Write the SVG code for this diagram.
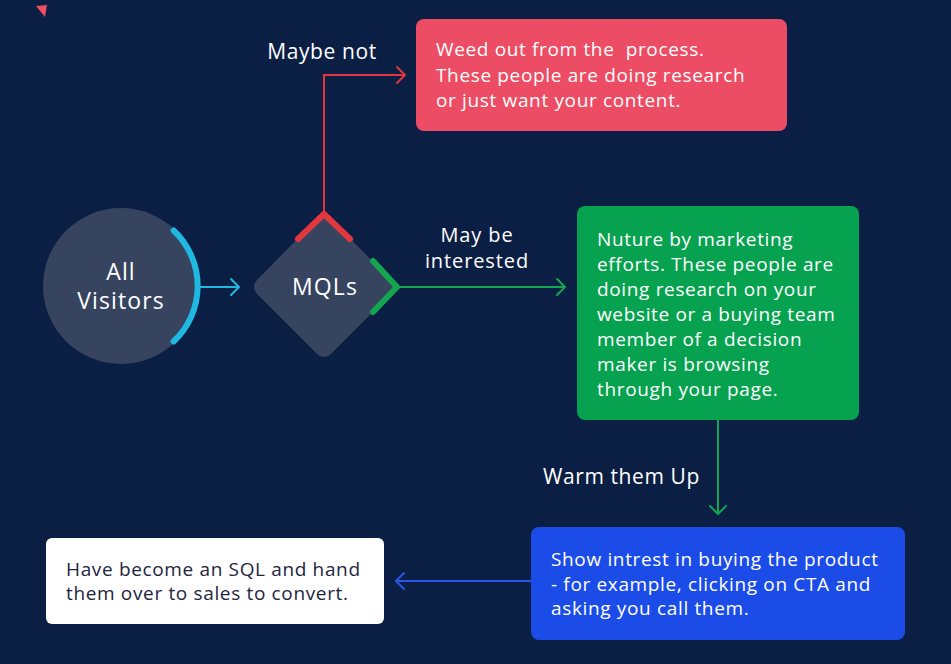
<svg xmlns="http://www.w3.org/2000/svg" width="951" height="664" viewBox="0 0 951 664">
<defs>
<style>
.t{font-family:"Open Sans","Noto Sans",sans-serif;font-size:19px;letter-spacing:0.65px;font-weight:500;fill:#ffffff}
.lbl{font-family:"Open Sans","Noto Sans",sans-serif;font-size:21px;letter-spacing:0.6px;font-weight:500;fill:#ffffff}
.lbl2{font-family:"Open Sans","Noto Sans",sans-serif;font-size:20px;letter-spacing:0.9px;font-weight:500;fill:#ffffff}
.big{font-family:"Open Sans","Noto Sans",sans-serif;font-size:23px;letter-spacing:1.1px;font-weight:500;fill:#ffffff}
.dark{fill:#1d2540}
.node{fill:#37445f}
.ln{fill:none;stroke-width:2}
.ah{fill:none;stroke-width:2;stroke-linecap:round;stroke-linejoin:round}
.cap{fill:none;stroke-width:6;stroke-linecap:round;stroke-linejoin:round}
</style>
</defs>
<rect width="951" height="664" fill="#0b1e43"/>
<polygon points="36,6 47,5 45,17" fill="#ee4d64"/>

<g id="connectors">
<line class="ln" x1="198" y1="287" x2="239" y2="287" stroke="#1fb8e0"/>
<polyline class="ah" points="231,279 239,287 231,295" stroke="#1fb8e0"/>
<polyline class="ln" points="324,213 324,75 405,75" stroke="#e0383e"/>
<polyline class="ah" points="397,67 405,75 397,83" stroke="#e0383e"/>
<line class="ln" x1="397" y1="287" x2="565" y2="287" stroke="#13a550"/>
<polyline class="ah" points="557,279 565,287 557,295" stroke="#13a550"/>
<line class="ln" x1="718" y1="420" x2="718" y2="514" stroke="#13a550"/>
<polyline class="ah" points="710,506 718,514 726,506" stroke="#13a550"/>
<line class="ln" x1="531" y1="581" x2="396" y2="581" stroke="#2a55e6"/>
<polyline class="ah" points="404,573 396,581 404,589" stroke="#2a55e6"/>
<text class="lbl" x="322" y="59" text-anchor="middle">Maybe not</text>
<text class="lbl2" x="477" y="242" text-anchor="middle">May be</text>
<text class="lbl2" x="477" y="268" text-anchor="middle">interested</text>
<text class="lbl" x="543" y="484">Warm them Up</text>
</g>

<g id="all-visitors">
<circle class="node" cx="121" cy="286" r="78"/>
<path class="cap" d="M173.6,230.5 A76,76 0 0 1 173.6,341.5" stroke="#1fb8e0"/>
<text class="big" x="121" y="280" text-anchor="middle">All</text>
<text class="big" x="121" y="309" text-anchor="middle">Visitors</text>
</g>

<g id="mqls">
<path class="node" d="M316,220 Q324,212 332,220 L390,279 Q398,287 390,295 L332,353 Q324,361 316,353 L258,295 Q250,287 258,279 Z"/>
<polyline class="cap" points="298,239 324,214 350,239" stroke="#e0383e"/>
<polyline class="cap" points="373,261 397,287 373,312" stroke="#13a550"/>
<text class="big" x="325" y="295" text-anchor="middle">MQLs</text>
</g>

<g id="weed-out">
<rect x="416" y="19" width="371" height="112" rx="8" fill="#ec4d64"/>
<text class="t" x="436" y="56" xml:space="preserve">Weed out from the  process.</text>
<text class="t" x="436" y="82">These people are doing research</text>
<text class="t" x="436" y="107">or just want your content.</text>
</g>

<g id="nurture">
<rect x="577" y="206" width="282" height="214" rx="8" fill="#06a24f"/>
<text class="t" x="597" y="246">Nuture by marketing</text>
<text class="t" x="597" y="271">efforts. These people are</text>
<text class="t" x="597" y="296">doing research on your</text>
<text class="t" x="597" y="321">website or a buying team</text>
<text class="t" x="597" y="346">member of a decision</text>
<text class="t" x="597" y="371">maker is browsing</text>
<text class="t" x="597" y="396">through your page.</text>
</g>

<g id="show-interest">
<rect x="531" y="527" width="374" height="113" rx="8" fill="#1c4ce8"/>
<text class="t" x="551" y="566">Show intrest in buying the product</text>
<text class="t" x="551" y="591">- for example, clicking on CTA and</text>
<text class="t" x="551" y="615">asking you call them.</text>
</g>

<g id="sql">
<rect x="46" y="538" width="338" height="86" rx="6" fill="#ffffff"/>
<text class="t dark" x="66" y="576">Have become an SQL and hand</text>
<text class="t dark" x="66" y="600">them over to sales to convert.</text>
</g>
</svg>
